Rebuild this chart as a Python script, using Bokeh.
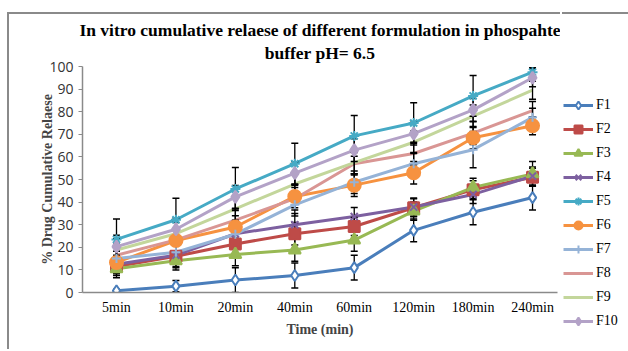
import numpy as np
from bokeh.plotting import figure
from bokeh.models import Range1d, FixedTicker, Legend, LegendItem, Title
from bokeh.embed import file_html
from bokeh.resources import INLINE

times = ["5min", "10min", "20min", "40min", "60min", "120min", "180min", "240min"]
series = ["F1", "F2", "F3", "F4", "F5", "F6", "F7", "F8", "F9", "F10"]

F1 = [0.8, 2.8, 5.5, 7.5, 11.0, 27.5, 35.5, 42.0]
F2 = [11.5, 16.0, 21.5, 26.0, 29.2, 37.5, 45.5, 51.0]
F3 = [10.5, 14.0, 16.8, 18.8, 23.2, 36.0, 46.5, 52.5]
F4 = [12.5, 16.5, 26.0, 30.0, 33.6, 37.8, 43.4, 51.5]
F5 = [23.5, 32.2, 45.8, 57.0, 69.3, 75.0, 87.0, 97.5]
F6 = [13.3, 23.0, 29.0, 42.5, 47.5, 53.0, 68.5, 73.8]
F7 = [15.0, 17.8, 25.8, 38.8, 48.8, 57.0, 63.2, 77.5]
F8 = [16.5, 23.3, 32.0, 41.5, 57.0, 61.5, 70.5, 80.5]
F9 = [18.8, 26.0, 37.0, 48.0, 57.5, 66.5, 78.0, 89.5]
F10 = [20.3, 28.0, 42.3, 52.8, 63.0, 70.3, 80.8, 95.0]

SD1 = [0.6, 2.5, 5.5, 5.5, 5.5, 5.0, 5.5, 5.5]
SD2 = [4.0, 5.0, 5.0, 5.0, 4.0, 4.0, 4.0, 4.0]
SD3 = [4.0, 4.0, 5.0, 5.0, 5.0, 4.0, 4.0, 5.5]
SD4 = [4.0, 5.0, 5.0, 5.0, 4.0, 4.0, 4.0, 4.0]
SD5 = [9.0, 9.5, 9.5, 9.0, 9.0, 9.0, 9.0, 2.0]
SD6 = [5.0, 5.0, 5.0, 5.0, 5.0, 5.0, 5.0, 4.0]
SD7 = [5.0, 5.0, 5.0, 5.0, 5.0, 5.0, 8.0, 4.0]
SD8 = [5.0, 5.0, 5.0, 5.0, 5.0, 5.0, 5.0, 4.0]
SD9 = [5.0, 5.0, 5.0, 5.0, 5.0, 5.0, 5.0, 4.0]
SD10 = [5.0, 5.0, 5.0, 5.0, 5.0, 5.0, 5.0, 4.0]

values = [F1, F2, F3, F4, F5, F6, F7, F8, F9, F10]
sds = [SD1, SD2, SD3, SD4, SD5, SD6, SD7, SD8, SD9, SD10]

colors = ["#4A7EBB", "#BE4B48", "#98B954", "#7D60A0", "#46AAC5",
          "#F69240", "#95B3D7", "#D99694", "#C3D69B", "#B3A2C7"]
markers = ["diamond", "square", "triangle", "x", "asterisk",
           "circle", "cross", None, None, "diamond"]
msizes = [11, 11, 12, 10, 10, 13, 9, 0, 0, 12]
mfill = ["white", None, None, None, None, None, None, None, None, None]

TITLE1 = "In vitro cumulative relaese of different formulation in phospahte"
TITLE2 = "buffer pH= 6.5"
SERIF = "Liberation Serif"
SANS = "Open Sans"
BORDER = "2px solid #8a8a8a"

xs = list(range(len(times)))

p = figure(width=553, height=337, output_backend="svg", toolbar_location=None,
           x_range=Range1d(-0.572, 7.42), y_range=Range1d(0, 100),
           min_border_left=73, min_border_right=5, min_border_top=52,
           min_border_bottom=59)
p.margin = (12, 0, 0, 7)
p.styles = {"border-left": BORDER, "border-top": BORDER}
p.outline_line_color = None
p.grid.grid_line_color = None

p.add_layout(Title(text=TITLE2, align="center", text_font=SERIF,
                   text_font_size="17.5px", text_font_style="bold",
                   text_color="black", standoff=7), "above")
p.add_layout(Title(text=TITLE1, align="center", text_font=SERIF,
                   text_font_size="17.5px", text_font_style="bold",
                   text_color="black", standoff=-5), "above")

# axes
p.xaxis.ticker = FixedTicker(ticks=xs)
p.xaxis.major_label_overrides = {i: t for i, t in enumerate(times)}
p.xaxis.major_tick_line_color = None
p.xaxis.major_tick_in = 0
p.xaxis.major_tick_out = 0
p.xaxis.minor_tick_line_color = None
p.xaxis.axis_line_color = "#8a8a8a"
p.xaxis.axis_line_width = 1.5
p.xaxis.major_label_text_font = SERIF
p.xaxis.major_label_text_font_size = "14px"
p.xaxis.major_label_text_color = "black"
p.xaxis.major_label_standoff = 7
p.xaxis.axis_label = "Time (min)"
p.xaxis.axis_label_text_font = SERIF
p.xaxis.axis_label_text_font_size = "14px"
p.xaxis.axis_label_text_font_style = "bold"
p.xaxis.axis_label_standoff = 4

p.yaxis.ticker = FixedTicker(ticks=list(range(0, 101, 10)))
p.yaxis.minor_tick_line_color = None
p.yaxis.major_tick_in = 0
p.yaxis.major_tick_out = 4
p.yaxis.major_tick_line_color = "#8a8a8a"
p.yaxis.axis_line_color = "#8a8a8a"
p.yaxis.axis_line_width = 1.5
p.yaxis.major_label_text_font = SANS
p.yaxis.major_label_text_font_size = "14px"
p.yaxis.major_label_text_color = "#333333"
p.yaxis.major_label_standoff = 5
p.yaxis.axis_label = "% Drug Cumulative Relaese"
p.yaxis.axis_label_text_font = SERIF
p.yaxis.axis_label_text_font_size = "14px"
p.yaxis.axis_label_text_font_style = "bold"
p.yaxis.axis_label_standoff = -9

for v, c in zip(values, colors):
    p.line(xs, v, line_color=c, line_width=3)

# error bars
for v, s in zip(values, sds):
    v = np.array(v)
    s = np.array(s)
    p.segment(xs, v - s, xs, v + s, line_color="black", line_width=1.3)
    p.scatter(xs, v + s, marker="dash", size=7, line_color="black", line_width=1.5)
    p.scatter(xs, v - s, marker="dash", size=7, line_color="black", line_width=1.5)

for i, (v, c) in enumerate(zip(values, colors)):
    if markers[i] is not None:
        fill = mfill[i] if mfill[i] else c
        p.scatter(xs, v, marker=markers[i], size=msizes[i], fill_color=fill,
                  line_color=c, line_width=2)

# legend: separate figure with the same series styles, data outside its view
lg = figure(width=66, height=337, output_backend="svg", toolbar_location=None,
            x_range=Range1d(1000, 1001), y_range=Range1d(1000, 1001),
            x_axis_location=None, y_axis_location=None,
            min_border_left=0, min_border_right=0, min_border_top=0,
            min_border_bottom=0)
lg.margin = 0
lg.styles = {"position": "absolute", "left": "562px", "top": "12px",
             "border-top": BORDER}
lg.outline_line_color = None
lg.grid.grid_line_color = None

items = []
for i, (name, v, c) in enumerate(zip(series, values, colors)):
    rs = [lg.line(xs, v, line_color=c, line_width=3)]
    if markers[i] is not None:
        fill = mfill[i] if mfill[i] else c
        rs.append(lg.scatter(xs, v, marker=markers[i], size=msizes[i] - 2,
                             fill_color=fill, line_color=c, line_width=2))
    items.append(LegendItem(label=name, renderers=rs))

legend = Legend(items=items, location=(1, 20), padding=0, margin=0,
                spacing=4, glyph_width=30, glyph_height=20, label_height=20,
                label_standoff=3, label_text_font=SERIF, label_text_font_size="14px",
                label_text_color="black", background_fill_alpha=0,
                border_line_color=None)
lg.add_layout(legend)

open("out.html", "w").write(file_html([p, lg], INLINE))
